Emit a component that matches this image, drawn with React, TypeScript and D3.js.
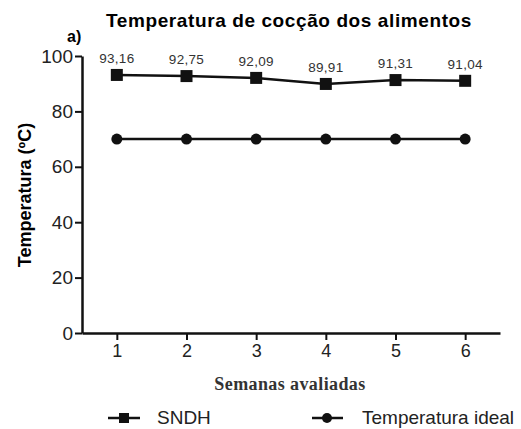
import { useEffect, useRef } from "react";
import * as d3 from "d3";

const weeks = [1, 2, 3, 4, 5, 6];
const sndh = [93.16, 92.75, 92.09, 89.91, 91.31, 91.04];
const ideal = [70, 70, 70, 70, 70, 70];
const yTicks = [0, 20, 40, 60, 80, 100];

export default function App() {
  const svgRef = useRef<SVGSVGElement>(null);

  useEffect(() => {
    const svg = d3.select(svgRef.current);
    svg.selectAll("*").remove();

    const x = d3.scaleLinear().domain([0.5, 6.5]).range([82, 500]);
    const y = d3.scaleLinear().domain([0, 100]).range([333, 56]);
    const sans = "Arial, 'Liberation Sans', sans-serif";

    // title
    svg.append("text")
      .attr("x", 289).attr("y", 27)
      .attr("text-anchor", "middle")
      .attr("font-family", sans).attr("font-weight", "bold").attr("font-size", 19)
      .attr("letter-spacing", 0.6)
      .text("Temperatura de cocção dos alimentos");

    svg.append("text")
      .attr("x", 67).attr("y", 42)
      .attr("font-family", sans).attr("font-weight", "bold").attr("font-size", 16)
      .text("a)");

    // y axis
    const yAxis = svg.append("g").attr("transform", "translate(82,0)")
      .call(d3.axisLeft(y).tickValues(yTicks).tickSize(7).tickSizeOuter(0));
    yAxis.select(".domain").attr("stroke", "#111").attr("stroke-width", 2.5);
    yAxis.selectAll(".tick line").attr("stroke", "#111").attr("stroke-width", 2);
    yAxis.selectAll(".tick text")
      .attr("font-family", sans).attr("font-size", 19).attr("fill", "#222").attr("x", -9);

    // x axis
    const xAxis = svg.append("g").attr("transform", "translate(0,333)")
      .call(d3.axisBottom(x).tickValues(weeks).tickFormat(d3.format("d")).tickSize(7).tickSizeOuter(0));
    xAxis.select(".domain").attr("stroke", "#111").attr("stroke-width", 2.5);
    xAxis.selectAll(".tick line").attr("stroke", "#111").attr("stroke-width", 2);
    xAxis.selectAll(".tick text")
      .attr("font-family", sans).attr("font-size", 18).attr("fill", "#222").attr("y", 11);

    // axis titles
    svg.append("text")
      .attr("transform", "translate(31,195) rotate(-90)")
      .attr("text-anchor", "middle")
      .attr("font-family", sans).attr("font-weight", "bold").attr("font-size", 18)
      .text("Temperatura (ºC)");

    svg.append("text")
      .attr("x", 290).attr("y", 390)
      .attr("text-anchor", "middle")
      .attr("font-family", "'Times New Roman', 'Liberation Serif', serif")
      .attr("font-weight", "bold").attr("font-size", 18).attr("fill", "#333")
      .attr("letter-spacing", 0.4)
      .text("Semanas avaliadas");

    const line = d3.line<number>().x((_, i) => x(weeks[i])).y(d => y(d));

    // ideal
    svg.append("path").datum(ideal).attr("d", line)
      .attr("fill", "none").attr("stroke", "#111").attr("stroke-width", 2.5);
    svg.selectAll(".ideal").data(ideal).enter().append("circle")
      .attr("cx", (_, i) => x(weeks[i])).attr("cy", d => y(d)).attr("r", 5.5).attr("fill", "#111");

    // SNDH
    svg.append("path").datum(sndh).attr("d", line)
      .attr("fill", "none").attr("stroke", "#111").attr("stroke-width", 2.5);
    svg.selectAll(".sndh").data(sndh).enter().append("rect")
      .attr("x", (_, i) => x(weeks[i]) - 6).attr("y", d => y(d) - 6)
      .attr("width", 12).attr("height", 12).attr("fill", "#111");
    svg.selectAll(".lbl").data(sndh).enter().append("text")
      .attr("x", (_, i) => x(weeks[i]))
      .attr("y", d => y(d) - 12)
      .attr("text-anchor", "middle")
      .attr("font-family", sans).attr("font-size", 13.5).attr("fill", "#333")
      .attr("letter-spacing", 0.3)
      .text(d => d.toFixed(2).replace(".", ","));

    // legend
    const lg = svg.append("g").attr("transform", "translate(0,418)");
    lg.append("line").attr("x1", 108).attr("x2", 140).attr("stroke", "#111").attr("stroke-width", 2.5);
    lg.append("rect").attr("x", 119).attr("y", -5).attr("width", 10).attr("height", 10).attr("fill", "#111");
    lg.append("text").attr("x", 157).attr("y", 6)
      .attr("font-family", sans).attr("font-size", 19).attr("fill", "#222").text("SNDH");
    lg.append("line").attr("x1", 312).attr("x2", 343).attr("stroke", "#111").attr("stroke-width", 2.5);
    lg.append("circle").attr("cx", 327).attr("cy", 0).attr("r", 5).attr("fill", "#111");
    lg.append("text").attr("x", 362).attr("y", 6)
      .attr("font-family", sans).attr("font-size", 19).attr("fill", "#222").text("Temperatura ideal");
  }, []);

  return (
    <svg ref={svgRef} width={521} height={429}
      style={{ position: "absolute", left: 0, top: 0, background: "#fff" }} />
  );
}
